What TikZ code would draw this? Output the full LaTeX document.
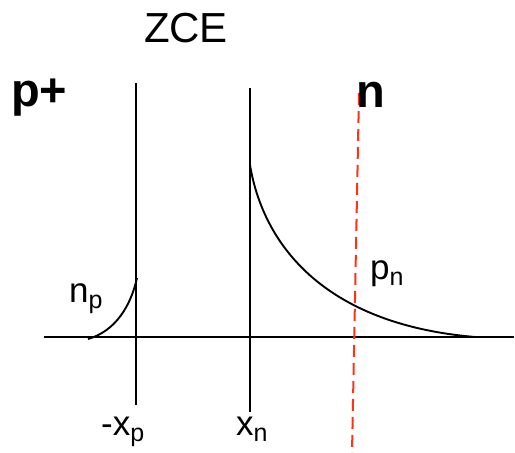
\documentclass[tikz,border=0pt]{standalone}
\usepackage{fontspec}
\setmainfont{Liberation Sans}
\newcommand\lsub[1]{\raisebox{-6pt}{\fontsize{25}{27}\selectfont #1}}
\begin{document}
\begin{tikzpicture}[x=1pt,y=-1pt,
  line/.style={line width=1.9pt,black},
  redline/.style={line width=2pt,color={rgb,255:red,255;green,50;blue,20},dash pattern=on 12pt off 6pt},
  lbl/.style={font=\fontsize{35}{38}\selectfont,inner sep=0pt},
  big/.style={font=\fontsize{47}{50}\selectfont\bfseries,inner sep=0pt}]
\useasboundingbox (0,0) rectangle (515,453);
% axis
\coordinate (a0) at (44,337);
\coordinate (a1) at (514,337);
\draw[line] (a0) -- (a1);
% verticals
\coordinate (l0) at (136,83); \coordinate (l1) at (136,405);
\coordinate (r0) at (250,88); \coordinate (r1) at (250,412);
\draw[line] (l0) -- (l1);
\draw[line] (r0) -- (r1);
\coordinate (d0) at (359,93); \coordinate (d1) at (352,453);
\draw[redline] (d0) -- (d1);
% curves
\coordinate (np0) at (88,339); \coordinate (np1) at (137,278);
\draw[line] (np0) .. controls (116,331) and (131,305) .. (np1);
\coordinate (pn0) at (250,165); \coordinate (pn1) at (475,337);
\draw[line] (pn0) .. controls (263,243) and (322,324) .. (pn1);
% labels
\node[font=\fontsize{42}{46}\selectfont,inner sep=0pt,anchor=base] (zce) at (186,42) {ZCE};
\node[big,anchor=base west] (pp) at (11,106) {p+};
\node[big,anchor=base west] (nn) at (356,107) {n};
\node[lbl,anchor=base west] (lnp) at (69,302) {n\lsub{p}};
\node[lbl,anchor=base west] (lpn) at (370,279) {p\lsub{n}};
\node[lbl,anchor=base west] (lxp) at (101,435) {-x\lsub{p}};
\node[lbl,anchor=base west] (lxn) at (236,435) {x\lsub{n}};
\end{tikzpicture}
\end{document}
